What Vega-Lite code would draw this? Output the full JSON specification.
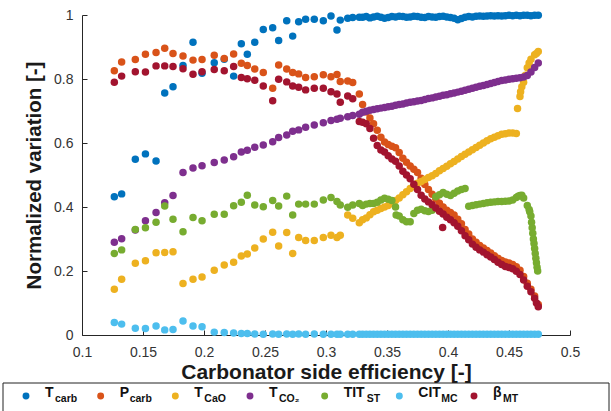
{
  "$schema": "https://vega.github.io/schema/vega-lite/v6.json",
  "background": "white",
  "padding": {"left": 2, "top": 8, "right": 0, "bottom": 0},
  "spacing": 0,
  "config": {
    "view": {"stroke": null},
    "font": "Liberation Sans",
    "axis": {"grid": false, "domainColor": "#262626", "tickColor": "#262626", "labelColor": "#333333", "titleColor": "#1a1a1a", "labelFont": "Liberation Sans", "titleFont": "Liberation Sans"}
  },
  "vconcat": [
    {
      "width": 488,
      "height": 320,
      "data": {"values": [
        {"s":"Tcarb","x":0.1265,"y":0.432},{"s":"Tcarb","x":0.1325,"y":0.441},{"s":"Tcarb","x":0.1437,"y":0.549},{"s":"Tcarb","x":0.152,"y":0.566},{"s":"Tcarb","x":0.1607,"y":0.544},{"s":"Tcarb","x":0.1678,"y":0.756},{"s":"Tcarb","x":0.1746,"y":0.776},{"s":"Tcarb","x":0.1828,"y":0.842},{"s":"Tcarb","x":0.191,"y":0.915},{"s":"Tcarb","x":0.1984,"y":0.818},{"s":"Tcarb","x":0.2084,"y":0.851},{"s":"Tcarb","x":0.2166,"y":0.862},{"s":"Tcarb","x":0.2243,"y":0.809},{"s":"Tcarb","x":0.2306,"y":0.91},{"s":"Tcarb","x":0.2355,"y":0.877},{"s":"Tcarb","x":0.2416,"y":0.915},{"s":"Tcarb","x":0.2486,"y":0.955},{"s":"Tcarb","x":0.2563,"y":0.96},{"s":"Tcarb","x":0.2612,"y":0.92},{"s":"Tcarb","x":0.2678,"y":0.982},{"s":"Tcarb","x":0.2727,"y":0.934},{"s":"Tcarb","x":0.2776,"y":0.979},{"s":"Tcarb","x":0.2833,"y":0.987},{"s":"Tcarb","x":0.2904,"y":0.987},{"s":"Tcarb","x":0.2978,"y":0.982},{"s":"Tcarb","x":0.3041,"y":0.997},{"s":"Tcarb","x":0.309,"y":0.953},{"s":"Tcarb","x":0.3117,"y":0.984},{"s":"Tcarb","x":0.3178,"y":0.99},{"s":"Tcarb","x":0.3219,"y":0.992},{"s":"Tcarb","x":0.3273,"y":0.993},
        {"s":"Tcarb","x":0.33,"y":0.993},{"s":"Tcarb","x":0.333,"y":0.995},{"s":"Tcarb","x":0.336,"y":0.991},{"s":"Tcarb","x":0.339,"y":0.994},{"s":"Tcarb","x":0.342,"y":0.996},{"s":"Tcarb","x":0.345,"y":0.993},{"s":"Tcarb","x":0.348,"y":0.99},{"s":"Tcarb","x":0.351,"y":0.992},{"s":"Tcarb","x":0.354,"y":0.995},{"s":"Tcarb","x":0.357,"y":0.994},{"s":"Tcarb","x":0.36,"y":0.996},{"s":"Tcarb","x":0.363,"y":0.995},{"s":"Tcarb","x":0.366,"y":0.993},{"s":"Tcarb","x":0.369,"y":0.994},{"s":"Tcarb","x":0.372,"y":0.996},{"s":"Tcarb","x":0.375,"y":0.995},{"s":"Tcarb","x":0.378,"y":0.993},{"s":"Tcarb","x":0.381,"y":0.992},{"s":"Tcarb","x":0.384,"y":0.995},{"s":"Tcarb","x":0.387,"y":0.994},{"s":"Tcarb","x":0.39,"y":0.993},{"s":"Tcarb","x":0.393,"y":0.995},{"s":"Tcarb","x":0.396,"y":0.996},{"s":"Tcarb","x":0.399,"y":0.994},{"s":"Tcarb","x":0.402,"y":0.992},{"s":"Tcarb","x":0.405,"y":0.99},{"s":"Tcarb","x":0.408,"y":0.985},{"s":"Tcarb","x":0.411,"y":0.989},{"s":"Tcarb","x":0.414,"y":0.993},{"s":"Tcarb","x":0.417,"y":0.995},{"s":"Tcarb","x":0.42,"y":0.994},{"s":"Tcarb","x":0.423,"y":0.996},{"s":"Tcarb","x":0.426,"y":0.997},{"s":"Tcarb","x":0.429,"y":0.996},{"s":"Tcarb","x":0.432,"y":0.997},{"s":"Tcarb","x":0.435,"y":0.998},{"s":"Tcarb","x":0.438,"y":0.997},{"s":"Tcarb","x":0.441,"y":0.998},{"s":"Tcarb","x":0.444,"y":0.997},{"s":"Tcarb","x":0.447,"y":0.998},{"s":"Tcarb","x":0.45,"y":0.999},{"s":"Tcarb","x":0.453,"y":0.998},{"s":"Tcarb","x":0.456,"y":0.999},{"s":"Tcarb","x":0.459,"y":0.998},{"s":"Tcarb","x":0.462,"y":0.999},{"s":"Tcarb","x":0.465,"y":0.999},{"s":"Tcarb","x":0.468,"y":0.998},{"s":"Tcarb","x":0.471,"y":0.999},{"s":"Tcarb","x":0.474,"y":0.999},

        {"s":"Pcarb","x":0.1265,"y":0.826},{"s":"Pcarb","x":0.1325,"y":0.853},{"s":"Pcarb","x":0.1437,"y":0.861},{"s":"Pcarb","x":0.152,"y":0.877},{"s":"Pcarb","x":0.1607,"y":0.883},{"s":"Pcarb","x":0.1678,"y":0.896},{"s":"Pcarb","x":0.1746,"y":0.88},{"s":"Pcarb","x":0.1828,"y":0.872},{"s":"Pcarb","x":0.191,"y":0.859},{"s":"Pcarb","x":0.1984,"y":0.861},{"s":"Pcarb","x":0.2084,"y":0.874},{"s":"Pcarb","x":0.2166,"y":0.864},{"s":"Pcarb","x":0.2243,"y":0.878},{"s":"Pcarb","x":0.2306,"y":0.849},{"s":"Pcarb","x":0.2355,"y":0.842},{"s":"Pcarb","x":0.2416,"y":0.831},{"s":"Pcarb","x":0.2486,"y":0.82},{"s":"Pcarb","x":0.2563,"y":0.771},{"s":"Pcarb","x":0.2612,"y":0.844},{"s":"Pcarb","x":0.2678,"y":0.831},{"s":"Pcarb","x":0.2727,"y":0.82},{"s":"Pcarb","x":0.2776,"y":0.816},{"s":"Pcarb","x":0.2833,"y":0.805},{"s":"Pcarb","x":0.2904,"y":0.807},{"s":"Pcarb","x":0.2978,"y":0.813},{"s":"Pcarb","x":0.3041,"y":0.807},{"s":"Pcarb","x":0.309,"y":0.814},{"s":"Pcarb","x":0.3117,"y":0.792},{"s":"Pcarb","x":0.3178,"y":0.794},{"s":"Pcarb","x":0.3219,"y":0.789},{"s":"Pcarb","x":0.3273,"y":0.753},
        {"s":"Pcarb","x":0.33,"y":0.72},{"s":"Pcarb","x":0.333,"y":0.697},{"s":"Pcarb","x":0.336,"y":0.678},{"s":"Pcarb","x":0.339,"y":0.66},{"s":"Pcarb","x":0.342,"y":0.64},{"s":"Pcarb","x":0.345,"y":0.618},{"s":"Pcarb","x":0.348,"y":0.603},{"s":"Pcarb","x":0.351,"y":0.595},{"s":"Pcarb","x":0.354,"y":0.59},{"s":"Pcarb","x":0.357,"y":0.585},{"s":"Pcarb","x":0.36,"y":0.57},{"s":"Pcarb","x":0.363,"y":0.552},{"s":"Pcarb","x":0.366,"y":0.54},{"s":"Pcarb","x":0.369,"y":0.528},{"s":"Pcarb","x":0.372,"y":0.518},{"s":"Pcarb","x":0.375,"y":0.508},{"s":"Pcarb","x":0.378,"y":0.49},{"s":"Pcarb","x":0.381,"y":0.47},{"s":"Pcarb","x":0.384,"y":0.455},{"s":"Pcarb","x":0.387,"y":0.44},{"s":"Pcarb","x":0.39,"y":0.425},{"s":"Pcarb","x":0.393,"y":0.412},{"s":"Pcarb","x":0.396,"y":0.4},{"s":"Pcarb","x":0.399,"y":0.39},{"s":"Pcarb","x":0.402,"y":0.383},{"s":"Pcarb","x":0.405,"y":0.375},{"s":"Pcarb","x":0.408,"y":0.362},{"s":"Pcarb","x":0.411,"y":0.348},{"s":"Pcarb","x":0.414,"y":0.33},{"s":"Pcarb","x":0.417,"y":0.316},{"s":"Pcarb","x":0.42,"y":0.3},{"s":"Pcarb","x":0.423,"y":0.29},{"s":"Pcarb","x":0.426,"y":0.28},{"s":"Pcarb","x":0.429,"y":0.272},{"s":"Pcarb","x":0.432,"y":0.264},{"s":"Pcarb","x":0.435,"y":0.256},{"s":"Pcarb","x":0.438,"y":0.248},{"s":"Pcarb","x":0.441,"y":0.24},{"s":"Pcarb","x":0.444,"y":0.233},{"s":"Pcarb","x":0.447,"y":0.228},{"s":"Pcarb","x":0.45,"y":0.225},{"s":"Pcarb","x":0.453,"y":0.22},{"s":"Pcarb","x":0.456,"y":0.213},{"s":"Pcarb","x":0.459,"y":0.202},{"s":"Pcarb","x":0.462,"y":0.183},{"s":"Pcarb","x":0.465,"y":0.162},{"s":"Pcarb","x":0.468,"y":0.143},{"s":"Pcarb","x":0.471,"y":0.122},{"s":"Pcarb","x":0.474,"y":0.095},

        {"s":"TCaO","x":0.1265,"y":0.143},{"s":"TCaO","x":0.1325,"y":0.174},{"s":"TCaO","x":0.1437,"y":0.224},{"s":"TCaO","x":0.152,"y":0.232},{"s":"TCaO","x":0.1607,"y":0.257},{"s":"TCaO","x":0.1678,"y":0.258},{"s":"TCaO","x":0.1746,"y":0.26},{"s":"TCaO","x":0.1828,"y":0.161},{"s":"TCaO","x":0.191,"y":0.174},{"s":"TCaO","x":0.1984,"y":0.181},{"s":"TCaO","x":0.2084,"y":0.202},{"s":"TCaO","x":0.2166,"y":0.219},{"s":"TCaO","x":0.2243,"y":0.227},{"s":"TCaO","x":0.2306,"y":0.247},{"s":"TCaO","x":0.2355,"y":0.253},{"s":"TCaO","x":0.2416,"y":0.272},{"s":"TCaO","x":0.2486,"y":0.3},{"s":"TCaO","x":0.2563,"y":0.321},{"s":"TCaO","x":0.2612,"y":0.278},{"s":"TCaO","x":0.2678,"y":0.32},{"s":"TCaO","x":0.2727,"y":0.255},{"s":"TCaO","x":0.2776,"y":0.305},{"s":"TCaO","x":0.2833,"y":0.295},{"s":"TCaO","x":0.2904,"y":0.295},{"s":"TCaO","x":0.2978,"y":0.305},{"s":"TCaO","x":0.3041,"y":0.312},{"s":"TCaO","x":0.309,"y":0.305},{"s":"TCaO","x":0.3117,"y":0.312},{"s":"TCaO","x":0.3178,"y":0.375},{"s":"TCaO","x":0.3219,"y":0.365},{"s":"TCaO","x":0.3273,"y":0.351},
        {"s":"TCaO","x":0.33,"y":0.36},{"s":"TCaO","x":0.333,"y":0.366},{"s":"TCaO","x":0.336,"y":0.376},{"s":"TCaO","x":0.339,"y":0.385},{"s":"TCaO","x":0.342,"y":0.39},{"s":"TCaO","x":0.345,"y":0.395},{"s":"TCaO","x":0.348,"y":0.4},{"s":"TCaO","x":0.351,"y":0.405},{"s":"TCaO","x":0.354,"y":0.412},{"s":"TCaO","x":0.357,"y":0.42},{"s":"TCaO","x":0.36,"y":0.428},{"s":"TCaO","x":0.363,"y":0.438},{"s":"TCaO","x":0.366,"y":0.448},{"s":"TCaO","x":0.369,"y":0.458},{"s":"TCaO","x":0.372,"y":0.466},{"s":"TCaO","x":0.375,"y":0.474},{"s":"TCaO","x":0.378,"y":0.48},{"s":"TCaO","x":0.381,"y":0.486},{"s":"TCaO","x":0.384,"y":0.492},{"s":"TCaO","x":0.387,"y":0.498},{"s":"TCaO","x":0.39,"y":0.505},{"s":"TCaO","x":0.393,"y":0.513},{"s":"TCaO","x":0.396,"y":0.52},{"s":"TCaO","x":0.399,"y":0.527},{"s":"TCaO","x":0.402,"y":0.535},{"s":"TCaO","x":0.405,"y":0.542},{"s":"TCaO","x":0.408,"y":0.55},{"s":"TCaO","x":0.411,"y":0.558},{"s":"TCaO","x":0.414,"y":0.565},{"s":"TCaO","x":0.417,"y":0.572},{"s":"TCaO","x":0.42,"y":0.579},{"s":"TCaO","x":0.423,"y":0.586},{"s":"TCaO","x":0.426,"y":0.593},{"s":"TCaO","x":0.429,"y":0.6},{"s":"TCaO","x":0.432,"y":0.607},{"s":"TCaO","x":0.435,"y":0.613},{"s":"TCaO","x":0.438,"y":0.618},{"s":"TCaO","x":0.441,"y":0.623},{"s":"TCaO","x":0.444,"y":0.627},{"s":"TCaO","x":0.447,"y":0.629},{"s":"TCaO","x":0.45,"y":0.631},{"s":"TCaO","x":0.453,"y":0.631},{"s":"TCaO","x":0.456,"y":0.63},{"s":"TCaO","x":0.457,"y":0.708},{"s":"TCaO","x":0.459,"y":0.745},{"s":"TCaO","x":0.4595,"y":0.76},{"s":"TCaO","x":0.4605,"y":0.776},{"s":"TCaO","x":0.462,"y":0.79},{"s":"TCaO","x":0.4635,"y":0.812},{"s":"TCaO","x":0.465,"y":0.835},{"s":"TCaO","x":0.4665,"y":0.85},{"s":"TCaO","x":0.468,"y":0.862},{"s":"TCaO","x":0.471,"y":0.876},{"s":"TCaO","x":0.4725,"y":0.88},{"s":"TCaO","x":0.474,"y":0.886},

        {"s":"TCO2","x":0.1265,"y":0.29},{"s":"TCO2","x":0.1325,"y":0.301},{"s":"TCO2","x":0.1437,"y":0.328},{"s":"TCO2","x":0.152,"y":0.357},{"s":"TCO2","x":0.1607,"y":0.383},{"s":"TCO2","x":0.1678,"y":0.413},{"s":"TCO2","x":0.1746,"y":0.436},{"s":"TCO2","x":0.1828,"y":0.508},{"s":"TCO2","x":0.191,"y":0.522},{"s":"TCO2","x":0.1984,"y":0.529},{"s":"TCO2","x":0.2084,"y":0.539},{"s":"TCO2","x":0.2166,"y":0.547},{"s":"TCO2","x":0.2243,"y":0.557},{"s":"TCO2","x":0.2306,"y":0.572},{"s":"TCO2","x":0.2355,"y":0.577},{"s":"TCO2","x":0.2416,"y":0.587},{"s":"TCO2","x":0.2486,"y":0.594},{"s":"TCO2","x":0.2563,"y":0.604},{"s":"TCO2","x":0.2612,"y":0.617},{"s":"TCO2","x":0.2678,"y":0.625},{"s":"TCO2","x":0.2727,"y":0.637},{"s":"TCO2","x":0.2776,"y":0.641},{"s":"TCO2","x":0.2833,"y":0.649},{"s":"TCO2","x":0.2904,"y":0.656},{"s":"TCO2","x":0.2978,"y":0.663},{"s":"TCO2","x":0.3041,"y":0.67},{"s":"TCO2","x":0.309,"y":0.674},{"s":"TCO2","x":0.3117,"y":0.677},{"s":"TCO2","x":0.3178,"y":0.682},{"s":"TCO2","x":0.3219,"y":0.686},{"s":"TCO2","x":0.3273,"y":0.69},
        {"s":"TCO2","x":0.33,"y":0.696},{"s":"TCO2","x":0.333,"y":0.699},{"s":"TCO2","x":0.336,"y":0.702},{"s":"TCO2","x":0.339,"y":0.705},{"s":"TCO2","x":0.342,"y":0.707},{"s":"TCO2","x":0.345,"y":0.709},{"s":"TCO2","x":0.348,"y":0.711},{"s":"TCO2","x":0.351,"y":0.713},{"s":"TCO2","x":0.354,"y":0.715},{"s":"TCO2","x":0.357,"y":0.718},{"s":"TCO2","x":0.36,"y":0.72},{"s":"TCO2","x":0.363,"y":0.722},{"s":"TCO2","x":0.366,"y":0.725},{"s":"TCO2","x":0.369,"y":0.727},{"s":"TCO2","x":0.372,"y":0.729},{"s":"TCO2","x":0.375,"y":0.731},{"s":"TCO2","x":0.378,"y":0.733},{"s":"TCO2","x":0.381,"y":0.736},{"s":"TCO2","x":0.384,"y":0.739},{"s":"TCO2","x":0.387,"y":0.741},{"s":"TCO2","x":0.39,"y":0.744},{"s":"TCO2","x":0.393,"y":0.746},{"s":"TCO2","x":0.396,"y":0.749},{"s":"TCO2","x":0.399,"y":0.751},{"s":"TCO2","x":0.402,"y":0.754},{"s":"TCO2","x":0.405,"y":0.756},{"s":"TCO2","x":0.408,"y":0.759},{"s":"TCO2","x":0.411,"y":0.762},{"s":"TCO2","x":0.414,"y":0.765},{"s":"TCO2","x":0.417,"y":0.768},{"s":"TCO2","x":0.42,"y":0.771},{"s":"TCO2","x":0.423,"y":0.774},{"s":"TCO2","x":0.426,"y":0.777},{"s":"TCO2","x":0.429,"y":0.78},{"s":"TCO2","x":0.432,"y":0.783},{"s":"TCO2","x":0.435,"y":0.786},{"s":"TCO2","x":0.438,"y":0.789},{"s":"TCO2","x":0.441,"y":0.792},{"s":"TCO2","x":0.444,"y":0.795},{"s":"TCO2","x":0.447,"y":0.797},{"s":"TCO2","x":0.45,"y":0.799},{"s":"TCO2","x":0.453,"y":0.801},{"s":"TCO2","x":0.456,"y":0.802},{"s":"TCO2","x":0.459,"y":0.804},{"s":"TCO2","x":0.462,"y":0.806},{"s":"TCO2","x":0.465,"y":0.811},{"s":"TCO2","x":0.468,"y":0.822},{"s":"TCO2","x":0.471,"y":0.836},{"s":"TCO2","x":0.474,"y":0.85},

        {"s":"TIT","x":0.1265,"y":0.255},{"s":"TIT","x":0.1325,"y":0.266},{"s":"TIT","x":0.1437,"y":0.33},{"s":"TIT","x":0.152,"y":0.335},{"s":"TIT","x":0.1607,"y":0.352},{"s":"TIT","x":0.1678,"y":0.403},{"s":"TIT","x":0.1746,"y":0.362},{"s":"TIT","x":0.1828,"y":0.323},{"s":"TIT","x":0.191,"y":0.367},{"s":"TIT","x":0.1984,"y":0.357},{"s":"TIT","x":0.2084,"y":0.377},{"s":"TIT","x":0.2166,"y":0.377},{"s":"TIT","x":0.2243,"y":0.404},{"s":"TIT","x":0.2306,"y":0.415},{"s":"TIT","x":0.2355,"y":0.437},{"s":"TIT","x":0.2416,"y":0.406},{"s":"TIT","x":0.2486,"y":0.401},{"s":"TIT","x":0.2563,"y":0.42},{"s":"TIT","x":0.2612,"y":0.403},{"s":"TIT","x":0.2678,"y":0.434},{"s":"TIT","x":0.2727,"y":0.375},{"s":"TIT","x":0.2776,"y":0.409},{"s":"TIT","x":0.2833,"y":0.409},{"s":"TIT","x":0.2904,"y":0.409},{"s":"TIT","x":0.2978,"y":0.422},{"s":"TIT","x":0.3041,"y":0.43},{"s":"TIT","x":0.309,"y":0.417},{"s":"TIT","x":0.3117,"y":0.406},{"s":"TIT","x":0.3178,"y":0.399},{"s":"TIT","x":0.3219,"y":0.406},{"s":"TIT","x":0.3273,"y":0.411},
        {"s":"TIT","x":0.33,"y":0.405},{"s":"TIT","x":0.333,"y":0.409},{"s":"TIT","x":0.336,"y":0.411},{"s":"TIT","x":0.339,"y":0.411},{"s":"TIT","x":0.342,"y":0.415},{"s":"TIT","x":0.345,"y":0.422},{"s":"TIT","x":0.348,"y":0.427},{"s":"TIT","x":0.351,"y":0.424},{"s":"TIT","x":0.354,"y":0.42},{"s":"TIT","x":0.357,"y":0.4},{"s":"TIT","x":0.3575,"y":0.375},{"s":"TIT","x":0.36,"y":0.372},{"s":"TIT","x":0.363,"y":0.36},{"s":"TIT","x":0.366,"y":0.354},{"s":"TIT","x":0.369,"y":0.354},{"s":"TIT","x":0.372,"y":0.38},{"s":"TIT","x":0.375,"y":0.39},{"s":"TIT","x":0.378,"y":0.393},{"s":"TIT","x":0.381,"y":0.388},{"s":"TIT","x":0.384,"y":0.386},{"s":"TIT","x":0.387,"y":0.39},{"s":"TIT","x":0.39,"y":0.432},{"s":"TIT","x":0.393,"y":0.438},{"s":"TIT","x":0.396,"y":0.445},{"s":"TIT","x":0.399,"y":0.44},{"s":"TIT","x":0.402,"y":0.436},{"s":"TIT","x":0.405,"y":0.443},{"s":"TIT","x":0.408,"y":0.45},{"s":"TIT","x":0.411,"y":0.455},{"s":"TIT","x":0.414,"y":0.458},{"s":"TIT","x":0.417,"y":0.402},{"s":"TIT","x":0.42,"y":0.405},{"s":"TIT","x":0.423,"y":0.407},{"s":"TIT","x":0.426,"y":0.409},{"s":"TIT","x":0.429,"y":0.411},{"s":"TIT","x":0.432,"y":0.413},{"s":"TIT","x":0.435,"y":0.415},{"s":"TIT","x":0.438,"y":0.416},{"s":"TIT","x":0.441,"y":0.417},{"s":"TIT","x":0.444,"y":0.417},{"s":"TIT","x":0.447,"y":0.418},{"s":"TIT","x":0.45,"y":0.419},{"s":"TIT","x":0.453,"y":0.422},{"s":"TIT","x":0.456,"y":0.43},{"s":"TIT","x":0.4575,"y":0.434},{"s":"TIT","x":0.459,"y":0.436},{"s":"TIT","x":0.4605,"y":0.437},{"s":"TIT","x":0.462,"y":0.428},{"s":"TIT","x":0.465,"y":0.405},{"s":"TIT","x":0.4665,"y":0.392},{"s":"TIT","x":0.467,"y":0.385},{"s":"TIT","x":0.468,"y":0.372},{"s":"TIT","x":0.4685,"y":0.352},{"s":"TIT","x":0.469,"y":0.335},{"s":"TIT","x":0.4695,"y":0.318},{"s":"TIT","x":0.47,"y":0.3},{"s":"TIT","x":0.4705,"y":0.286},{"s":"TIT","x":0.471,"y":0.27},{"s":"TIT","x":0.4715,"y":0.255},{"s":"TIT","x":0.472,"y":0.24},{"s":"TIT","x":0.4725,"y":0.226},{"s":"TIT","x":0.473,"y":0.212},{"s":"TIT","x":0.4735,"y":0.2},

        {"s":"CIT","x":0.1265,"y":0.039},{"s":"CIT","x":0.1325,"y":0.034},{"s":"CIT","x":0.1437,"y":0.021},{"s":"CIT","x":0.152,"y":0.02},{"s":"CIT","x":0.1607,"y":0.028},{"s":"CIT","x":0.1678,"y":0.016},{"s":"CIT","x":0.1746,"y":0.017},{"s":"CIT","x":0.1828,"y":0.044},{"s":"CIT","x":0.191,"y":0.028},{"s":"CIT","x":0.1984,"y":0.026},{"s":"CIT","x":0.2084,"y":0.009},{"s":"CIT","x":0.2166,"y":0.008},{"s":"CIT","x":0.2243,"y":0.006},{"s":"CIT","x":0.2306,"y":0.005},{"s":"CIT","x":0.2355,"y":0.005},{"s":"CIT","x":0.2416,"y":0.003},{"s":"CIT","x":0.2486,"y":0.002},{"s":"CIT","x":0.2563,"y":0.003},{"s":"CIT","x":0.2612,"y":0.002},{"s":"CIT","x":0.2678,"y":0.003},{"s":"CIT","x":0.2727,"y":0.002},{"s":"CIT","x":0.2776,"y":0.003},{"s":"CIT","x":0.2833,"y":0.002},{"s":"CIT","x":0.2904,"y":0.003},{"s":"CIT","x":0.2978,"y":0.002},{"s":"CIT","x":0.3041,"y":0.002},{"s":"CIT","x":0.309,"y":0.002},{"s":"CIT","x":0.3117,"y":0.002},{"s":"CIT","x":0.3178,"y":0.002},{"s":"CIT","x":0.3219,"y":0.002},{"s":"CIT","x":0.3273,"y":0.002},
        {"s":"CIT","x":0.33,"y":0.002},{"s":"CIT","x":0.333,"y":0.002},{"s":"CIT","x":0.336,"y":0.002},{"s":"CIT","x":0.339,"y":0.002},{"s":"CIT","x":0.342,"y":0.002},{"s":"CIT","x":0.345,"y":0.002},{"s":"CIT","x":0.348,"y":0.002},{"s":"CIT","x":0.351,"y":0.002},{"s":"CIT","x":0.354,"y":0.002},{"s":"CIT","x":0.357,"y":0.002},{"s":"CIT","x":0.36,"y":0.002},{"s":"CIT","x":0.363,"y":0.002},{"s":"CIT","x":0.366,"y":0.002},{"s":"CIT","x":0.369,"y":0.002},{"s":"CIT","x":0.372,"y":0.002},{"s":"CIT","x":0.375,"y":0.002},{"s":"CIT","x":0.378,"y":0.002},{"s":"CIT","x":0.381,"y":0.002},{"s":"CIT","x":0.384,"y":0.002},{"s":"CIT","x":0.387,"y":0.002},{"s":"CIT","x":0.39,"y":0.002},{"s":"CIT","x":0.393,"y":0.002},{"s":"CIT","x":0.396,"y":0.002},{"s":"CIT","x":0.399,"y":0.002},{"s":"CIT","x":0.402,"y":0.002},{"s":"CIT","x":0.405,"y":0.002},{"s":"CIT","x":0.408,"y":0.002},{"s":"CIT","x":0.411,"y":0.002},{"s":"CIT","x":0.414,"y":0.002},{"s":"CIT","x":0.417,"y":0.002},{"s":"CIT","x":0.42,"y":0.002},{"s":"CIT","x":0.423,"y":0.002},{"s":"CIT","x":0.426,"y":0.002},{"s":"CIT","x":0.429,"y":0.002},{"s":"CIT","x":0.432,"y":0.002},{"s":"CIT","x":0.435,"y":0.002},{"s":"CIT","x":0.438,"y":0.002},{"s":"CIT","x":0.441,"y":0.002},{"s":"CIT","x":0.444,"y":0.002},{"s":"CIT","x":0.447,"y":0.002},{"s":"CIT","x":0.45,"y":0.002},{"s":"CIT","x":0.453,"y":0.002},{"s":"CIT","x":0.456,"y":0.002},{"s":"CIT","x":0.459,"y":0.002},{"s":"CIT","x":0.462,"y":0.002},{"s":"CIT","x":0.465,"y":0.002},{"s":"CIT","x":0.468,"y":0.002},{"s":"CIT","x":0.471,"y":0.002},{"s":"CIT","x":0.474,"y":0.002},

        {"s":"beta","x":0.1265,"y":0.79},{"s":"beta","x":0.1325,"y":0.809},{"s":"beta","x":0.1437,"y":0.823},{"s":"beta","x":0.152,"y":0.822},{"s":"beta","x":0.1607,"y":0.841},{"s":"beta","x":0.1678,"y":0.841},{"s":"beta","x":0.1746,"y":0.839},{"s":"beta","x":0.1828,"y":0.832},{"s":"beta","x":0.191,"y":0.815},{"s":"beta","x":0.1984,"y":0.823},{"s":"beta","x":0.2084,"y":0.83},{"s":"beta","x":0.2166,"y":0.826},{"s":"beta","x":0.2243,"y":0.839},{"s":"beta","x":0.2306,"y":0.805},{"s":"beta","x":0.2355,"y":0.801},{"s":"beta","x":0.2416,"y":0.796},{"s":"beta","x":0.2486,"y":0.778},{"s":"beta","x":0.2563,"y":0.732},{"s":"beta","x":0.2612,"y":0.799},{"s":"beta","x":0.2678,"y":0.791},{"s":"beta","x":0.2727,"y":0.778},{"s":"beta","x":0.2776,"y":0.774},{"s":"beta","x":0.2833,"y":0.766},{"s":"beta","x":0.2904,"y":0.771},{"s":"beta","x":0.2978,"y":0.771},{"s":"beta","x":0.3041,"y":0.76},{"s":"beta","x":0.309,"y":0.753},{"s":"beta","x":0.3117,"y":0.727},{"s":"beta","x":0.3178,"y":0.747},{"s":"beta","x":0.3219,"y":0.738},{"s":"beta","x":0.3273,"y":0.667},
        {"s":"beta","x":0.33,"y":0.665},{"s":"beta","x":0.333,"y":0.66},{"s":"beta","x":0.336,"y":0.645},{"s":"beta","x":0.339,"y":0.615},{"s":"beta","x":0.342,"y":0.592},{"s":"beta","x":0.345,"y":0.578},{"s":"beta","x":0.348,"y":0.572},{"s":"beta","x":0.351,"y":0.56},{"s":"beta","x":0.354,"y":0.55},{"s":"beta","x":0.357,"y":0.543},{"s":"beta","x":0.36,"y":0.528},{"s":"beta","x":0.363,"y":0.512},{"s":"beta","x":0.366,"y":0.5},{"s":"beta","x":0.369,"y":0.488},{"s":"beta","x":0.372,"y":0.471},{"s":"beta","x":0.375,"y":0.455},{"s":"beta","x":0.378,"y":0.437},{"s":"beta","x":0.381,"y":0.425},{"s":"beta","x":0.384,"y":0.416},{"s":"beta","x":0.387,"y":0.407},{"s":"beta","x":0.39,"y":0.397},{"s":"beta","x":0.393,"y":0.387},{"s":"beta","x":0.3956,"y":0.336},{"s":"beta","x":0.396,"y":0.378},{"s":"beta","x":0.399,"y":0.368},{"s":"beta","x":0.402,"y":0.36},{"s":"beta","x":0.405,"y":0.351},{"s":"beta","x":0.408,"y":0.34},{"s":"beta","x":0.411,"y":0.326},{"s":"beta","x":0.414,"y":0.31},{"s":"beta","x":0.417,"y":0.298},{"s":"beta","x":0.42,"y":0.284},{"s":"beta","x":0.423,"y":0.274},{"s":"beta","x":0.426,"y":0.266},{"s":"beta","x":0.429,"y":0.259},{"s":"beta","x":0.432,"y":0.251},{"s":"beta","x":0.435,"y":0.244},{"s":"beta","x":0.438,"y":0.236},{"s":"beta","x":0.441,"y":0.227},{"s":"beta","x":0.444,"y":0.22},{"s":"beta","x":0.447,"y":0.214},{"s":"beta","x":0.45,"y":0.211},{"s":"beta","x":0.453,"y":0.207},{"s":"beta","x":0.456,"y":0.199},{"s":"beta","x":0.459,"y":0.189},{"s":"beta","x":0.462,"y":0.172},{"s":"beta","x":0.465,"y":0.152},{"s":"beta","x":0.468,"y":0.135},{"s":"beta","x":0.471,"y":0.115},{"s":"beta","x":0.4725,"y":0.1},{"s":"beta","x":0.474,"y":0.088}
      ]},
      "mark": {"type": "circle", "size": 56, "opacity": 1},
      "encoding": {
        "x": {"field": "x", "type": "quantitative",
          "scale": {"domain": [0.1, 0.5], "nice": false, "zero": false},
          "axis": {"title": "Carbonator side efficiency [-]", "values": [0.1, 0.15, 0.2, 0.25, 0.3, 0.35, 0.4, 0.45, 0.5], "format": "~g", "tickSize": -5, "labelPadding": 15, "labelFontSize": 14, "labelFlush": false, "labelOverlap": false, "titleFontSize": 21, "titleFontWeight": "bold", "titlePadding": 2}},
        "y": {"field": "y", "type": "quantitative",
          "scale": {"domain": [0, 1], "nice": false, "zero": false},
          "axis": {"title": "Normalized variation [-]", "values": [0, 0.2, 0.4, 0.6, 0.8, 1], "format": "~g", "tickSize": -5, "labelPadding": 14, "labelFontSize": 14, "labelOverlap": false, "titleFontSize": 20.5, "titleFontWeight": "bold", "titlePadding": 9}},
        "color": {"field": "s", "type": "nominal",
          "scale": {"domain": ["Tcarb", "Pcarb", "TCaO", "TCO2", "TIT", "CIT", "beta"], "range": ["#0072BD", "#D95319", "#EDB120", "#7E2F8E", "#77AC30", "#4DBEEE", "#A2142F"]},
          "legend": null}
      }
    },
    {
      "width": 488,
      "height": 34,
      "view": {"stroke": null},
      "data": {"values": [
        {"s": "Tcarb", "m": "T", "b": "carb"},
        {"s": "Pcarb", "m": "P", "b": "carb"},
        {"s": "TCaO", "m": "T", "b": "CaO"},
        {"s": "TCO2", "m": "T", "b": "CO₂"},
        {"s": "TIT", "m": "TIT", "b": "ST"},
        {"s": "CIT", "m": "CIT", "b": "MC"},
        {"s": "beta", "m": "β", "b": "MT"}
      ]},
      "resolve": {"scale": {"x": "independent"}},
      "layer": [
        {"data": {"values": [{"frame": "legend"}]},
          "mark": {"type": "rect", "fill": "white", "stroke": "#222222", "strokeWidth": 1},
          "encoding": {
            "x": {"datum": 0, "type": "quantitative", "scale": {"domain": [0, 1], "range": [-79, 527]}, "axis": null},
            "x2": {"datum": 1},
            "y": {"datum": 0, "type": "quantitative", "scale": {"domain": [0, 1], "range": [0, 40]}, "axis": null},
            "y2": {"datum": 1}}},
        {"mark": {"type": "circle", "size": 48, "opacity": 1, "yOffset": -4},
          "encoding": {
            "x": {"field": "s", "type": "nominal", "axis": null, "scale": {"type": "point", "padding": 0, "domain": ["Tcarb", "Pcarb", "TCaO", "TCO2", "TIT", "CIT", "beta"], "range": [-56, 392]}},
            "color": {"field": "s", "type": "nominal", "legend": null,
            "scale": {"domain": ["Tcarb", "Pcarb", "TCaO", "TCO2", "TIT", "CIT", "beta"], "range": ["#0072BD", "#D95319", "#EDB120", "#7E2F8E", "#77AC30", "#4DBEEE", "#A2142F"]}}}},
        {"mark": {"type": "text", "align": "left", "baseline": "middle", "dx": 19, "dy": -7, "fontSize": 14, "fontWeight": "bold", "color": "#111111"},
          "encoding": {
            "x": {"field": "s", "type": "nominal", "axis": null, "scale": {"type": "point", "padding": 0, "domain": ["Tcarb", "Pcarb", "TCaO", "TCO2", "TIT", "CIT", "beta"], "range": [-56, 392]}},
            "text": {"field": "m"}}},
        {"transform": [{"filter": "length(datum.m) == 1"}],
          "mark": {"type": "text", "align": "left", "baseline": "middle", "dx": 29, "dy": -1, "fontSize": 10.5, "fontWeight": "bold", "color": "#111111"},
          "encoding": {
            "x": {"field": "s", "type": "nominal", "axis": null, "scale": {"type": "point", "padding": 0, "domain": ["Tcarb", "Pcarb", "TCaO", "TCO2", "TIT", "CIT", "beta"], "range": [-56, 392]}},
            "text": {"field": "b"}}},
        {"transform": [{"filter": "length(datum.m) > 1"}],
          "mark": {"type": "text", "align": "left", "baseline": "middle", "dx": 42, "dy": -1, "fontSize": 10.5, "fontWeight": "bold", "color": "#111111"},
          "encoding": {
            "x": {"field": "s", "type": "nominal", "axis": null, "scale": {"type": "point", "padding": 0, "domain": ["Tcarb", "Pcarb", "TCaO", "TCO2", "TIT", "CIT", "beta"], "range": [-56, 392]}},
            "text": {"field": "b"}}}
      ]
    }
  ]
}
